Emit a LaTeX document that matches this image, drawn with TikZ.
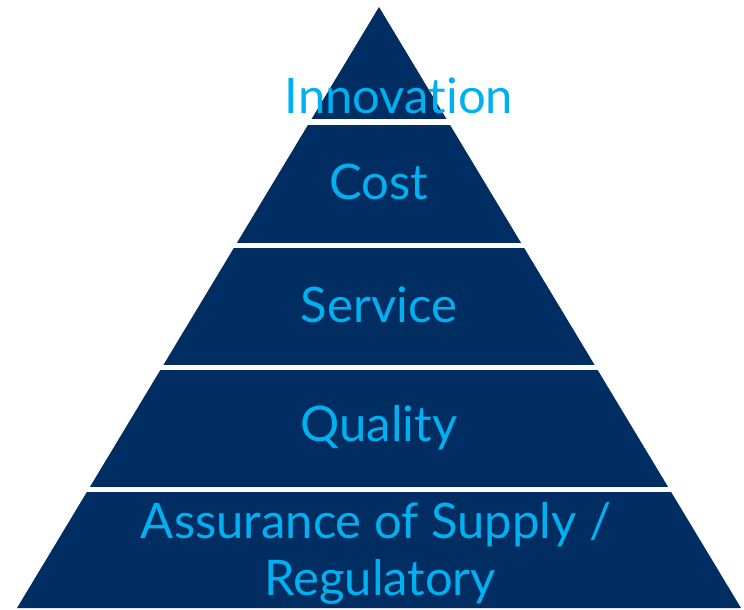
\documentclass[tikz,border=0pt]{standalone}
\usepackage{fontspec}
\setmainfont{Lato}[Ligatures={NoCommon}]
\definecolor{navy}{RGB}{0,45,98}
\definecolor{skyblue}{RGB}{0,176,240}
\begin{document}
\begin{tikzpicture}[x=1pt,y=-1pt,
  label/.style={text=skyblue,font=\fontsize{49}{57}\selectfont,anchor=base,inner sep=0pt},
  gap/.style={fill=white,draw=none}]
\useasboundingbox (0,0) rectangle (744,610);
\coordinate (apex) at (379,7);
\coordinate (bl) at (17,608);
\coordinate (br) at (741,608);
\fill[navy] (apex) -- (br) -- (bl) -- cycle;
\fill[gap] (0,119) rectangle (744,125);
\fill[gap] (0,243) rectangle (744,248);
\fill[gap] (0,365) rectangle (744,370);
\fill[gap] (0,487) rectangle (744,492);
\node[label] (innov) at (399,113) {Innovation};
\node[label] (cost) at (379,199) {Cost};
\node[label] (serv) at (379,322) {Service};
\node[label] (qual) at (379,441) {Quality};
\node[label] (assur) at (376,538) {Assurance of Supply /};
\node[label] (regul) at (380,595) {Regulatory};
\end{tikzpicture}
\end{document}
